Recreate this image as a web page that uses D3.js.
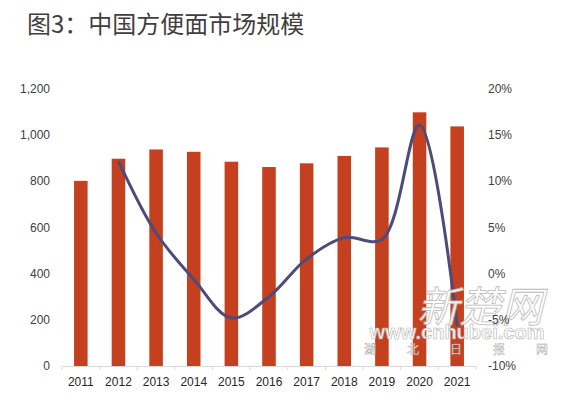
<!DOCTYPE html>
<html>
<head>
<meta charset="utf-8">
<script src="https://cdn.jsdelivr.net/npm/d3@7"></script>
<style>
  body { margin: 0; background: #fff; }
  svg text { font-family: "Liberation Sans", Arial, sans-serif; }
</style>
</head>
<body>
<div id="chart"></div>
<script>
// data
let years = ["2011", "2012", "2013", "2014", "2015", "2016", "2017", "2018", "2019", "2020", "2021"];
let marketSize = [802, 898, 938, 928, 885, 862, 878, 910, 947, 1099, 1038];
let growthYears = ["2012", "2013", "2014", "2015", "2016", "2017", "2018", "2019", "2020", "2021"];
let growthRate = [12.2, 4.4, -0.6, -4.8, -2.5, 1.6, 3.9, 3.7, 16.1, -5.7];
let leftTicks = [0, 200, 400, 600, 800, 1000, 1200];
let rightTicks = [-10, -5, 0, 5, 10, 15, 20];
let markChars = ["湖", "北", "日", "报", "网"];

let width = 570, height = 396;
let margin = {top: 89, right: 94, bottom: 30, left: 62};

let svg = d3.select("#chart").append("svg")
    .attr("width", width)
    .attr("height", height);

// title
svg.append("text")
    .attr("x", 27)
    .attr("y", 33)
    .style("font-family", "'Noto Sans CJK SC', sans-serif")
    .style("font-size", "24px")
    .style("fill", "#3f3f3f")
    .text("图3：中国方便面市场规模");

let x = d3.scaleBand()
    .domain(years)
    .range([margin.left, width - margin.right])
    .paddingInner(0.64)
    .paddingOuter(0.32);

let yLeft = d3.scaleLinear()
    .domain([0, 1200])
    .range([height - margin.bottom, margin.top]);

let yRight = d3.scaleLinear()
    .domain([-10, 20])
    .range([height - margin.bottom, margin.top]);

// left axis labels
svg.append("g")
    .selectAll("text")
    .data(leftTicks)
    .enter()
    .append("text")
    .attr("x", 50)
    .attr("y", d => yLeft(d) + 4)
    .attr("text-anchor", "end")
    .style("font-size", "12px")
    .style("fill", "#404040")
    .text(d => d3.format(",")(d));

// bars
svg.append("g")
    .selectAll("rect")
    .data(marketSize)
    .enter()
    .append("rect")
    .attr("x", (d, i) => x(years[i]))
    .attr("y", d => yLeft(d))
    .attr("width", x.bandwidth())
    .attr("height", d => yLeft(0) - yLeft(d))
    .style("fill", "#c5401e");

// x axis
let xAxis = d3.axisBottom(x).tickSize(0).tickPadding(11);
let gx = svg.append("g")
    .attr("transform", `translate(0, ${yLeft(0)})`)
    .call(xAxis);
gx.select(".domain").attr("stroke", "#d9d9d9");
gx.selectAll("text")
    .style("font-family", "'Liberation Sans', Arial, sans-serif")
    .style("font-size", "12px")
    .style("fill", "#262626");

// small ticks between categories
let step = x.step();
let bounds = d3.range(years.length + 1).map(i => margin.left + i * step);
gx.selectAll(".sep")
    .data(bounds)
    .enter()
    .append("line")
    .attr("x1", d => d)
    .attr("x2", d => d)
    .attr("y1", 0)
    .attr("y2", 4)
    .attr("stroke", "#d9d9d9");

// growth line
let line = d3.line()
    .x((d, i) => x(growthYears[i]) + x.bandwidth() / 2)
    .y(d => yRight(d))
    .curve(d3.curveCatmullRom.alpha(0.5));

svg.append("path")
    .datum(growthRate)
    .attr("d", line)
    .style("fill", "none")
    .style("stroke", "#4b4c78")
    .style("stroke-width", 3);

// watermark
let wm = svg.append("g").style("opacity", 0.9);
wm.append("text")
    .attr("x", 480)
    .attr("y", 322)
    .attr("text-anchor", "middle")
    .style("font-family", "'Noto Sans CJK SC', sans-serif")
    .style("font-size", "42px")
    .style("font-style", "italic")
    .style("fill", "#ffffff")
    .style("stroke", "#b5b5b5")
    .style("stroke-width", 0.8)
    .text("新楚网");
wm.append("text")
    .attr("x", 457)
    .attr("y", 339)
    .attr("text-anchor", "middle")
    .style("font-size", "20px")
    .style("font-weight", "bold")
    .style("fill", "#ffffff")
    .style("stroke", "#aaaaaa")
    .style("stroke-width", 0.6)
    .text("www.cnhubei.com");
wm.selectAll(".mk")
    .data(markChars)
    .enter()
    .append("text")
    .attr("x", (d, i) => 370 + i * 43)
    .attr("y", 354)
    .attr("text-anchor", "middle")
    .style("font-family", "'Noto Sans CJK SC', sans-serif")
    .style("font-size", "12px")
    .style("fill", "#ffffff")
    .style("stroke", "#999999")
    .style("stroke-width", 0.4)
    .text(d => d);

// right axis labels (drawn above the watermark)
svg.append("g")
    .selectAll("text")
    .data(rightTicks)
    .enter()
    .append("text")
    .attr("x", 488)
    .attr("y", d => yRight(d) + 4)
    .style("font-size", "12px")
    .style("fill", "#404040")
    .text(d => d + "%");
</script>
</body>
</html>
